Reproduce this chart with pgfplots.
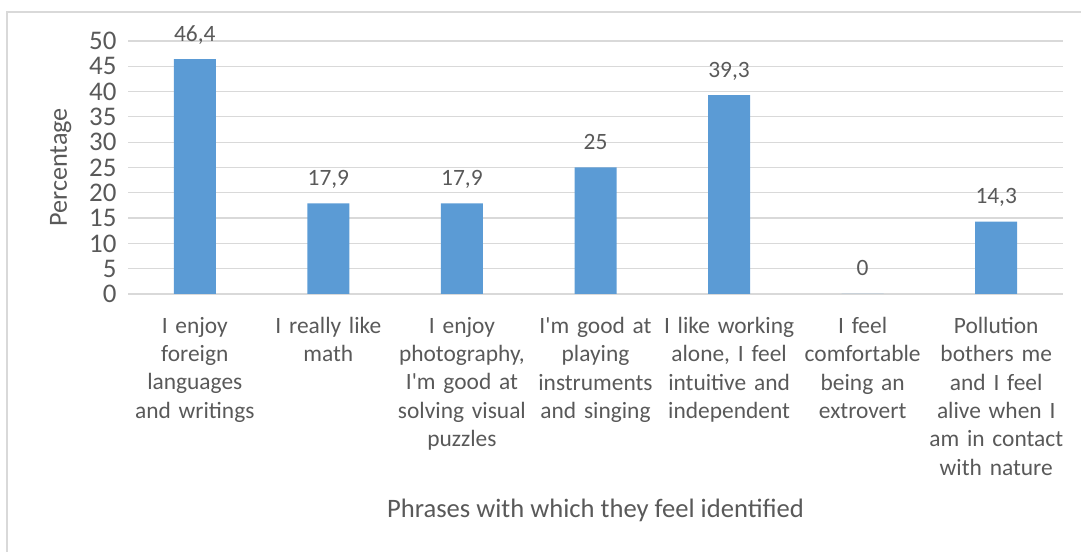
\documentclass[border=0pt]{standalone}
\usepackage{fontspec}
\setmainfont{Carlito}
\usepackage{pgfplots}
\pgfplotsset{compat=1.18}
\definecolor{barblue}{HTML}{5B9BD5}
\definecolor{gridgray}{HTML}{D9D9D9}
\definecolor{txtgray}{HTML}{595959}
\newcommand{\ap}{\textquotesingle}
\begin{document}
\begin{tikzpicture}[x=1bp,y=1bp]
\path[use as bounding box] (0,0) rectangle (1081,552);
\draw[gridgray, line width=1.5bp] (7,0) -- (7,540) -- (1081,540);
\begin{axis}[
  at={(128bp,258bp)}, anchor=south west,
  scale only axis, width=935bp, height=253bp,
  ymin=0, ymax=50, xmin=-0.5, xmax=6.5,
  ybar, bar width=42bp,
  separate axis lines,
  axis x line*=bottom,
  axis y line*=left,
  y axis line style={draw=none},
  x axis line style={gridgray, line width=1.2bp, -},
  ymajorgrids, grid style={gridgray, line width=1.2bp},
  major tick length=0pt,
  ytick={0,5,...,50},
  xtick={0,...,6},
  xticklabels={
    {I enjoy\\foreign\\languages\\and writings},
    {I really like\\math},
    {I enjoy\\photography,\\I\ap m good at\\solving visual\\puzzles},
    {I\ap m good at\\playing\\instruments\\and singing},
    {I like working\\alone, I feel\\intuitive and\\independent},
    {I feel\\comfortable\\being an\\extrovert},
    {Pollution\\bothers me\\and I feel\\alive when I\\am in contact\\with nature}},
  xticklabel style={text width=150bp, align=center, text=txtgray,
    font=\fontsize{23.5}{28.5}\selectfont, anchor=north, yshift=-19.5bp},
  yticklabel style={text=txtgray, font=\fontsize{27}{30}\selectfont, xshift=-8bp},
  /pgf/number format/assume math mode=true,
  ylabel={Percentage},
  ylabel style={text=txtgray, font=\fontsize{26.3}{30}\selectfont,
    at={(axis description cs:-0.0655,0.5)}, anchor=base},
  xlabel={Phrases with which they feel identified},
  xlabel style={text=txtgray, font=\fontsize{26.7}{30}\selectfont,
    at={(axis description cs:0.5,0)}, anchor=base, yshift=-224bp},
  nodes near coords={\pgfmathprintnumber[use comma]{\pgfplotspointmeta}},
  nodes near coords style={text=txtgray, font=\fontsize{23.5}{28}\selectfont,
    anchor=base, yshift=18bp},
  enlarge x limits=false,
  clip=false,
]
\addplot[fill=barblue, draw=none] coordinates {
  (0,46.4) (1,17.9) (2,17.9) (3,25) (4,39.3) (5,0) (6,14.3)};
\end{axis}
\end{tikzpicture}
\end{document}
